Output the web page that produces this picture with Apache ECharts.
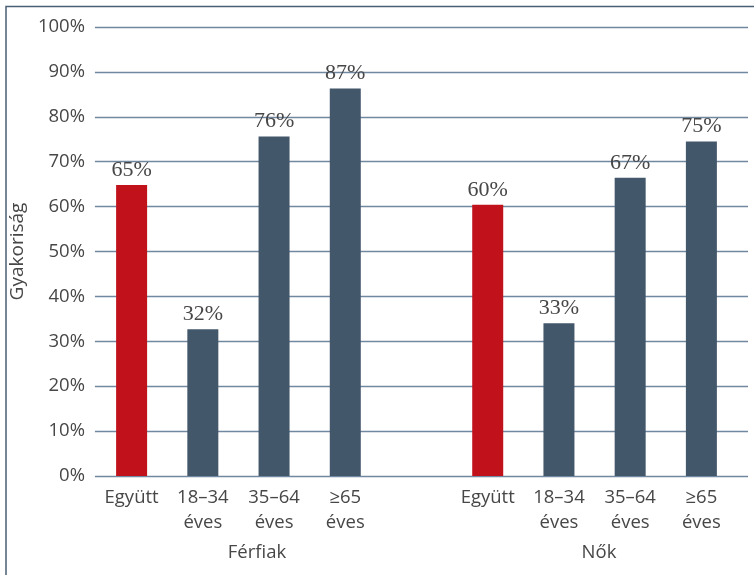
<!DOCTYPE html>
<html>
<head>
<meta charset="utf-8">
<script src="https://cdn.jsdelivr.net/npm/echarts@6/dist/echarts.min.js"></script>
<style>
  html, body { margin: 0; padding: 0; background: #fff; }
  #chart { width: 754px; height: 575px; }
</style>
</head>
<body>
<div id="chart"></div>
<script>
// kategóriák (üres hely a két csoport között)
const categories = ["Együtt", "18–34\néves", "35–64\néves", "≥65\néves", "", "Együtt", "18–34\néves", "35–64\néves", "≥65\néves"];
// gyakoriság (%)
const values = [64.8, 32.7, 75.6, 86.3, null, 60.4, 34.0, 66.4, 74.5];
const labelTexts = ["65%", "32%", "76%", "87%", "", "60%", "33%", "67%", "75%"];
const isTotal = [true, false, false, false, false, true, false, false, false];
const groups = ["Férfiak", "Nők"];
const yTicks = [0, 10, 20, 30, 40, 50, 60, 70, 80, 90, 100];

const RED = "#c1121c";
const SLATE = "#43576b";
const GRID = "#7088a0";
const TEXT = "#474747";
const SANS = "'Open Sans', sans-serif";

const chart = echarts.init(document.getElementById("chart"));

const options = {
  animation: false,
  grid: [
    { left: 93, right: 6, top: 27, bottom: 99 },
    { left: 96, right: 17, top: 27, bottom: 99 },
  ],
  xAxis: [
    { gridIndex: 0, type: "category", data: [""], show: false },
    {
      gridIndex: 1,
      type: "category",
      data: categories,
      axisLine: { show: false },
      axisTick: { show: false },
      axisLabel: {
        color: TEXT,
        fontFamily: SANS,
        fontSize: 18.5,
        lineHeight: 25,
        margin: 9,
        interval: 0,
      },
    },
  ],
  yAxis: [
    {
      gridIndex: 0,
      type: "value",
      min: 0,
      max: 100,
      interval: 10,
      name: "Gyakoriság",
      nameLocation: "middle",
      nameGap: 62,
      nameTextStyle: { color: TEXT, fontFamily: SANS, fontSize: 19 },
      axisLine: { show: false },
      axisTick: { show: false },
      axisLabel: {
        color: TEXT,
        fontFamily: SANS,
        fontSize: 18.5,
        margin: 10,
        formatter: (v) => (yTicks.includes(v) ? v + "%" : ""),
      },
      splitLine: { show: true, lineStyle: { color: GRID, width: 1.3 } },
    },
    {
      gridIndex: 1,
      type: "value",
      min: 0,
      max: 100,
      interval: 10,
      show: false,
      splitLine: { show: false },
    },
  ],
  series: [
    {
      type: "bar",
      xAxisIndex: 1,
      yAxisIndex: 1,
      barWidth: 31,
      data: values.map((v, i) => ({
        value: v,
        itemStyle: { color: isTotal[i] ? RED : SLATE },
      })),
      label: {
        show: true,
        position: "top",
        distance: 4,
        color: TEXT,
        fontFamily: "'Liberation Serif', serif",
        fontSize: 22,
        formatter: (p) => labelTexts[p.dataIndex],
      },
    },
  ],
  graphic: [
    {
      type: "text",
      x: 257,
      y: 553,
      style: { text: groups[0], fill: TEXT, font: "18.5px " + SANS, align: "center", verticalAlign: "middle" },
    },
    {
      type: "text",
      x: 599,
      y: 553,
      style: { text: groups[1], fill: TEXT, font: "18.5px " + SANS, align: "center", verticalAlign: "middle" },
    },
    {
      type: "polyline",
      shape: { points: [[6, 600], [6, 6.5], [760, 6.5]] },
      style: { stroke: "#4a5f74", lineWidth: 1.5, fill: null },
    },
  ],
};

chart.setOption(options);
</script>
</body>
</html>
